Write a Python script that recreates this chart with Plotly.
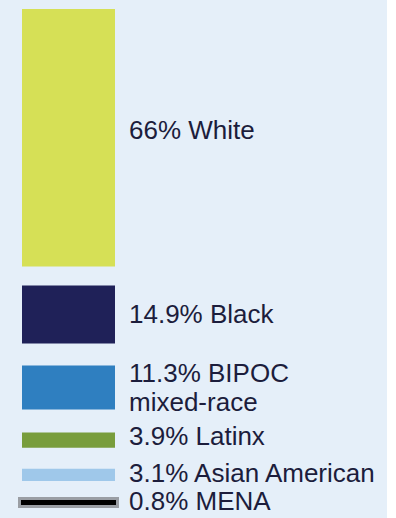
import plotly.graph_objects as go

# Share of each group (percent), top to bottom
groups = ["White", "Black", "BIPOC mixed-race", "Latinx", "Asian American", "MENA"]
shares = [66, 14.9, 11.3, 3.9, 3.1, 0.8]
labels = ["66% White", "14.9% Black", "11.3% BIPOC<br>mixed-race", "3.9% Latinx",
          "3.1% Asian American", "0.8% MENA"]
colors = ["#d6e056", "#1f2158", "#2f7fc0", "#789d3c", "#9fc8ea", "#000000"]

W, H = 396, 518
PLOT_W = 387                 # shaded area width
PX_PER_PCT = 3.9             # vertical scale
TOP_PX = 9                   # space above first block
GAPS_PX = [19, 22, 23, 21, 20]  # spacing between blocks

BAR_X0, BAR_X1 = 22, 115
bar_cx = (BAR_X0 + BAR_X1) / 2
bar_w = BAR_X1 - BAR_X0

FONT_SIZE = 26
LINE_PITCH = 29              # leading for wrapped labels
label_shift = [8, 0, 0, 4, 1.5, 1]   # nudge labels up from block centre (px)

# stack blocks downward with gaps (y in percent units, reversed axis)
bases = []
y = TOP_PX / PX_PER_PCT
for i, v in enumerate(shares):
    bases.append(y)
    y += v
    if i < len(GAPS_PX):
        y += GAPS_PX[i] / PX_PER_PCT

fig = go.Figure()

for i, (v, b, c) in enumerate(zip(shares, bases, colors)):
    if groups[i] == "MENA":
        # thin block: grey halo behind a black rule
        fig.add_trace(go.Bar(x=[bar_cx], y=[v], base=[b], width=bar_w,
                             marker=dict(color="#8d9197", line=dict(color="#9a9ea4", width=8)),
                             hoverinfo="skip"))
        fig.add_trace(go.Bar(x=[bar_cx], y=[v], base=[b], width=bar_w,
                             marker=dict(color=c, line=dict(color=c, width=2)),
                             hoverinfo="skip"))
    else:
        fig.add_trace(go.Bar(x=[bar_cx], y=[v], base=[b], width=bar_w,
                             marker=dict(color=c, line=dict(width=0)),
                             hoverinfo="skip"))

for lab, v, b, s in zip(labels, shares, bases, label_shift):
    lines = lab.split("<br>")
    n = len(lines)
    for k, line in enumerate(lines):
        offset = (k - (n - 1) / 2) * LINE_PITCH
        fig.add_annotation(x=128, y=b + v / 2, text=line, xanchor="left", yanchor="middle",
                           showarrow=False, align="left", yshift=s - offset,
                           borderpad=0,
                           font=dict(family="Liberation Sans, Arial, sans-serif",
                                     size=FONT_SIZE, color="#1c1d3c"))

fig.update_layout(
    width=W, height=H,
    margin=dict(l=0, r=W - PLOT_W, t=0, b=0),
    paper_bgcolor="#ffffff",
    plot_bgcolor="#e5eff9",
    showlegend=False,
    barmode="overlay",
    xaxis=dict(range=[0, PLOT_W], visible=False, fixedrange=True),
    yaxis=dict(range=[H / PX_PER_PCT, 0], visible=False, fixedrange=True),
)

fig.write_html("out.html")
